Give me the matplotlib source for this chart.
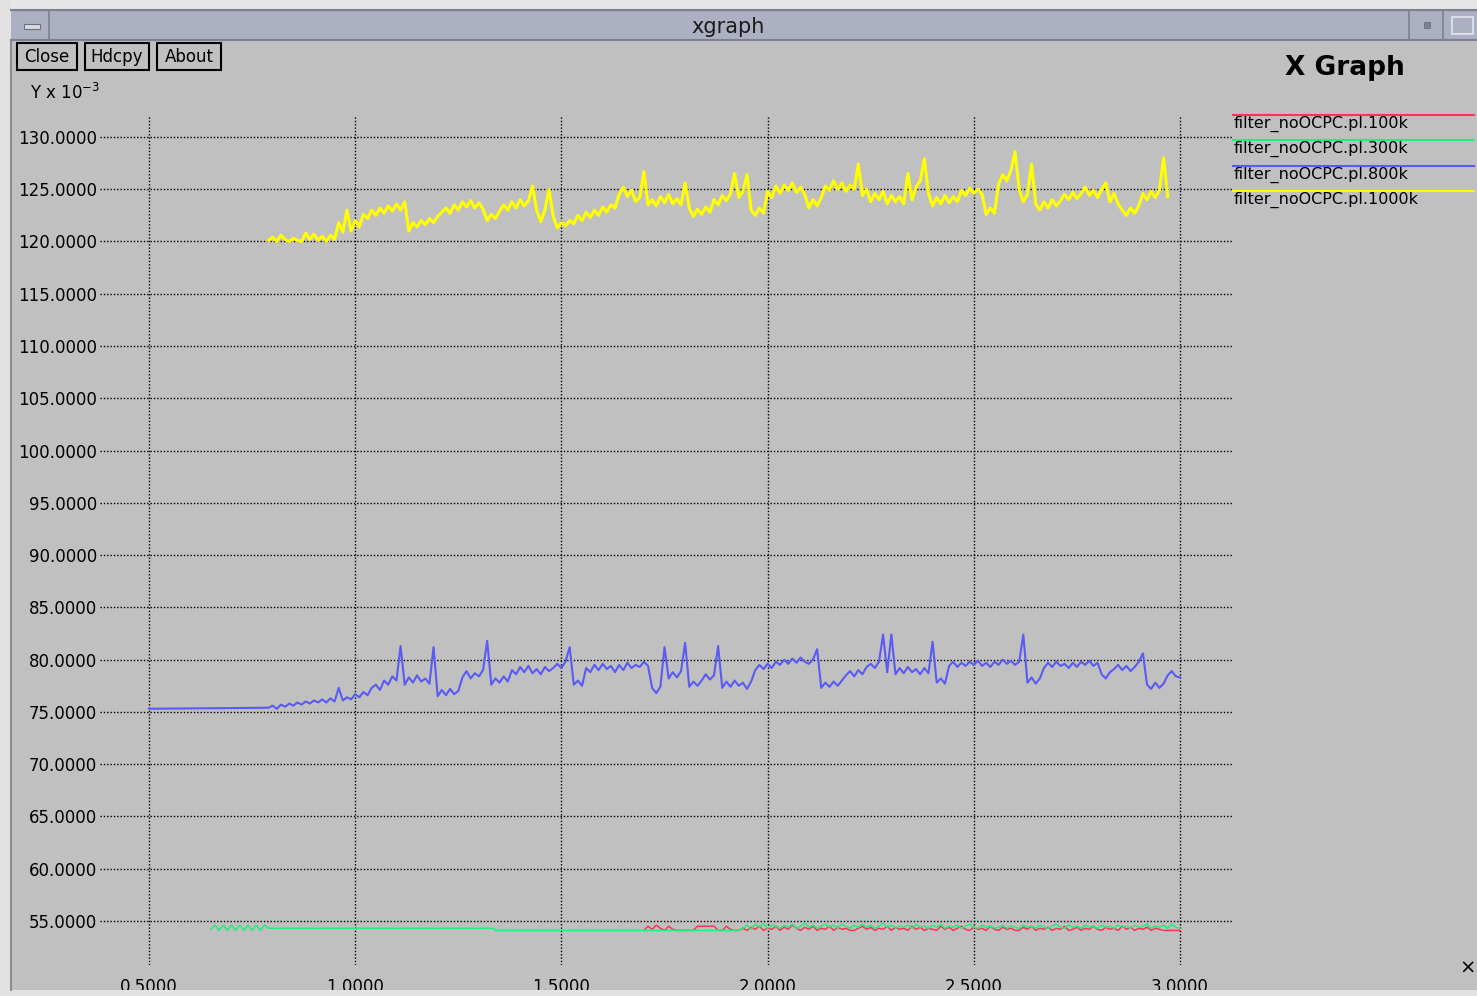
import numpy as np
import matplotlib
matplotlib.use('Agg')
import matplotlib.pyplot as plt
from matplotlib.patches import Rectangle
from matplotlib.lines import Line2D

W, H = 1477, 996

# ---- data, y in units of 1e-3 ----
labels = ['filter_noOCPC.pl.100k', 'filter_noOCPC.pl.300k',
          'filter_noOCPC.pl.800k', 'filter_noOCPC.pl.1000k']
colors = ['#ff3355', '#1ef07a', '#5a5af5', '#ffff00']

x_ticks = [0.5, 1.0, 1.5, 2.0, 2.5, 3.0]
y_ticks = [55, 60, 65, 70, 75, 80, 85, 90, 95, 100, 105, 110, 115, 120, 125, 130]

dt = 0.01

# 100k (red), sampled every dt from 1.70
red_x0 = 1.70
red_y = [54.1, 54.5, 54.2, 54.6, 54.3, 54.1, 54.5, 54.2, 54.1, 54.1,
         54.1, 54.1, 54.1, 54.5, 54.5, 54.5, 54.5, 54.5, 54.1, 54.1,
         54.5, 54.2, 54.1, 54.1, 54.3, 54.1, 54.4, 54.2, 54.5, 54.1,
         54.3, 54.2, 54.5, 54.1, 54.4, 54.2, 54.6, 54.3, 54.1, 54.4,
         54.2, 54.5, 54.1, 54.3, 54.2, 54.5, 54.1, 54.4, 54.2, 54.3,
         54.1, 54.1, 54.3, 54.5, 54.2, 54.4, 54.1, 54.3, 54.2, 54.5,
         54.1, 54.4, 54.2, 54.3, 54.1, 54.5, 54.2, 54.4, 54.1, 54.3,
         54.2, 54.1, 54.5, 54.2, 54.4, 54.1, 54.3, 54.5, 54.2, 54.1,
         54.4, 54.2, 54.3, 54.1, 54.5, 54.2, 54.1, 54.4, 54.2, 54.3,
         54.1, 54.1, 54.4, 54.2, 54.5, 54.1, 54.3, 54.2, 54.4, 54.1,
         54.3, 54.2, 54.5, 54.1, 54.2, 54.4, 54.1, 54.3, 54.2, 54.5,
         54.2, 54.1, 54.4, 54.2, 54.3, 54.1, 54.5, 54.2, 54.4, 54.1,
         54.3, 54.2, 54.4, 54.1, 54.3, 54.2, 54.1, 54.1, 54.1, 54.1,
         54.1]

# 300k (green): zigzag start, flat part, then noisy from 1.94
green_zig_x0 = 0.65
green_zig_y = [54.2, 54.6, 54.1, 54.6, 54.1, 54.6, 54.1, 54.6, 54.1, 54.6,
               54.1, 54.6, 54.1, 54.6, 54.3, 54.3]
green_flat_x = [1.335, 1.34, 1.93]
green_flat_y = [54.3, 54.1, 54.1]
green_x0 = 1.94
green_y = [54.3, 54.6, 54.2, 54.7, 54.4, 54.8, 54.3, 54.6, 54.5, 54.3,
           54.6, 54.4, 54.7, 54.3, 54.5, 54.8, 54.4, 54.6, 54.3, 54.5,
           54.7, 54.4, 54.6, 54.3, 54.7, 54.5, 54.3, 54.6, 54.4, 54.7,
           54.4, 54.6, 54.3, 54.5, 54.8, 54.4, 54.6, 54.3, 54.5, 54.4,
           54.6, 54.3, 54.7, 54.4, 54.5, 54.3, 54.6, 54.4, 54.7, 54.3,
           54.5, 54.4, 54.6, 54.3, 54.5, 54.7, 54.4, 54.3, 54.6, 54.4,
           54.5, 54.3, 54.4, 54.6, 54.3, 54.5, 54.4, 54.3, 54.6, 54.4,
           54.5, 54.3, 54.6, 54.4, 54.3, 54.5, 54.7, 54.4, 54.3, 54.6,
           54.4, 54.5, 54.3, 54.6, 54.4, 54.5, 54.3, 54.6, 54.4, 54.5,
           54.3, 54.6, 54.4, 54.5, 54.3, 54.6, 54.4, 54.5, 54.7, 54.3,
           54.5, 54.4, 54.6, 54.3, 54.7, 54.4, 54.3]

# 800k (blue): flat at 75.3 from 0.5, noisy from 0.79
blue_start = (0.5, 75.3)
blue_x0 = 0.79
blue_y = [75.4, 75.6, 75.3, 75.7, 75.5, 75.8, 75.6, 75.9, 75.7, 76.0,
          75.8, 76.1, 75.9, 76.2, 75.9, 76.3, 76.0, 77.3, 76.1, 76.4,
          76.2, 76.7, 76.4, 76.9, 76.6, 77.3, 77.6, 77.1, 78.0, 77.6,
          78.4, 78.0, 81.3, 77.6, 78.3, 77.8, 78.5, 77.9, 78.2, 77.7,
          81.2, 76.5, 77.1, 76.6, 77.2, 76.7, 77.0, 78.3, 78.9, 78.2,
          78.7, 78.4, 79.0, 81.8, 77.6, 78.2, 77.8, 78.4, 77.9, 79.0,
          78.6, 79.3, 78.8, 79.4, 78.7, 79.1, 78.6, 79.3, 78.9, 79.2,
          79.6, 79.2, 79.8, 81.2, 77.6, 78.0, 77.5, 79.2, 78.8, 79.5,
          79.0, 79.6, 79.1, 79.4, 78.8, 79.5, 79.0, 79.7, 79.2, 79.5,
          79.3, 79.8, 79.4, 77.3, 76.8, 77.4, 81.2, 78.2, 78.8, 78.3,
          78.9, 81.6, 77.4, 77.9, 77.5, 78.0, 78.6, 78.1, 78.5, 81.3,
          77.3, 77.9, 77.4, 78.0, 77.5, 77.8, 77.2, 77.9, 79.0, 79.5,
          79.1, 79.6, 79.2, 79.8, 79.5, 80.0, 79.6, 80.1, 79.7, 80.2,
          79.8, 79.6, 80.0, 81.0, 77.3, 77.8, 77.4, 77.9, 77.5, 78.0,
          78.5, 78.9, 78.4, 79.0, 78.6, 79.3, 79.6, 79.2, 79.8, 82.4,
          78.8, 82.4, 78.6, 79.2, 78.7, 79.3, 78.8, 79.1, 78.6, 79.2,
          78.7, 81.7, 77.8, 78.2, 77.7, 79.4, 79.8, 79.3, 79.7, 79.4,
          79.8, 79.5, 79.9, 79.4, 79.7, 79.3, 79.8, 79.5, 80.0, 79.6,
          79.9, 79.5, 79.8, 82.4, 77.8, 78.3, 77.7, 78.2, 79.2, 79.7,
          79.3, 79.8, 79.4, 79.6, 79.2, 79.7, 79.3, 79.8, 79.5, 79.9,
          79.4, 79.7, 78.6, 78.2, 78.8, 79.1, 79.5, 79.0, 79.4, 78.9,
          79.3, 79.8, 80.6, 77.6, 77.2, 77.8, 77.3, 77.7, 78.5, 78.9,
          78.4, 78.3]

# 1000k (yellow), from 0.79
yellow_x0 = 0.79
yellow_y = [120.1, 120.4, 120.0, 120.6, 120.2, 120.0, 120.3, 120.1, 120.0, 120.8,
            120.2, 120.7, 120.1, 120.5, 120.0, 120.6, 120.2, 121.8, 120.9, 123.0,
            121.0, 122.0, 121.4, 122.6, 122.2, 123.0, 122.5, 123.2, 122.7, 123.4,
            122.9, 123.6, 123.0, 123.8, 121.0, 121.8, 121.4, 122.0, 121.6, 122.2,
            121.8, 122.4, 122.8, 123.2, 122.7, 123.5, 123.0, 123.8, 123.3, 123.9,
            123.2, 123.7, 123.1, 122.0, 122.6, 122.2, 122.9, 123.5, 123.0, 123.8,
            123.2, 124.0, 123.4, 123.9, 125.3, 123.0, 121.9, 123.0, 125.0, 122.4,
            121.3, 121.8, 121.5, 122.0, 121.7, 122.5, 122.0, 122.8, 122.3, 123.0,
            122.5, 123.3, 122.8, 123.5, 123.2, 124.5, 125.2, 124.3, 124.9, 123.8,
            124.2, 126.7, 123.5, 124.0, 123.4, 124.3, 123.7, 124.5, 123.6, 124.1,
            123.5, 125.6, 123.2, 122.4, 123.1, 122.6, 123.3, 122.8, 124.0, 123.5,
            124.4, 123.9, 124.6, 126.5, 124.2, 124.8, 126.4, 123.0, 122.5, 123.2,
            122.7, 124.8, 124.2, 125.3, 124.6, 125.4, 124.9, 125.6, 124.7, 125.2,
            124.5, 123.2, 124.0, 123.4, 124.2, 125.3, 124.9, 125.8, 125.0, 125.6,
            124.8, 125.4, 125.0, 127.4, 124.4, 125.0, 123.8, 124.6, 124.0, 124.8,
            123.6, 124.4, 123.8, 124.3, 123.6, 126.5, 124.0, 125.2, 125.8, 127.9,
            124.6, 123.4, 124.2, 123.6, 124.4, 123.7, 124.3, 123.8, 124.9, 124.4,
            125.1, 124.6, 125.0, 124.5, 122.6, 123.2, 122.7, 125.5, 126.4, 125.8,
            126.8, 128.6, 125.0, 123.8, 124.5, 127.4, 123.6, 123.0, 123.8, 123.2,
            124.0, 123.4, 123.9, 124.5, 124.0, 124.7, 124.1, 124.6, 125.2, 124.4,
            124.9, 124.2, 125.0, 125.6, 123.8, 124.6, 123.6, 123.0, 122.5, 123.2,
            122.7, 123.4, 124.6, 124.0, 124.8, 124.2, 124.9, 128.0, 124.3]


def fx(px):
    return px / W


def fy(py):
    return 1 - py / H


def box(fig, x0, y0, x1, y1, **kw):
    # rectangle given in screenshot pixels (top-left origin)
    r = Rectangle((fx(x0), fy(y1)), (x1 - x0) / W, (y1 - y0) / H,
                  transform=fig.transFigure, **kw)
    fig.add_artist(r)
    return r


def hline(fig, x0, x1, y, **kw):
    fig.add_artist(Line2D([fx(x0), fx(x1)], [fy(y), fy(y)],
                          transform=fig.transFigure, **kw))


def vline(fig, x, y0, y1, **kw):
    fig.add_artist(Line2D([fx(x), fx(x)], [fy(y0), fy(y1)],
                          transform=fig.transFigure, **kw))


def main():
    plt.rcParams['font.family'] = ['DejaVu Sans']
    fig = plt.figure(figsize=(W / 100, H / 100), dpi=100, facecolor='#c0c0c0')

    # ---- window chrome ----
    box(fig, 0, 0, W, 10, facecolor='#e6e6e6', edgecolor='none')
    box(fig, 0, 0, 11, H, facecolor='#e2e2e2', edgecolor='none')
    box(fig, 0, 990, W, H, facecolor='#e2e2e2', edgecolor='none')
    vline(fig, 11, 40, 990, color='#8c8c98', lw=1.5)
    box(fig, 11, 10, W, 40, facecolor='#acb0c2', edgecolor='none')
    hline(fig, 11, W, 10.5, color='#7c8090', lw=1.5)
    hline(fig, 11, W, 40, color='#7c8090', lw=1.5)
    vline(fig, 49, 11, 40, color='#7c8090', lw=1.2)
    vline(fig, 1409, 11, 40, color='#7c8090', lw=1.2)
    vline(fig, 1443, 11, 40, color='#7c8090', lw=1.2)
    box(fig, 24, 24, 40, 29, facecolor='#d8dae2', edgecolor='#6c7080', lw=0.8)
    box(fig, 1424, 22, 1430, 28, facecolor='#7c8090', edgecolor='#6c7080', lw=0.6)
    box(fig, 1452, 17, 1473, 34, facecolor='none', edgecolor='#e4e6ee', lw=1.2)
    fig.text(fx(728), fy(27), 'xgraph', ha='center', va='center',
             fontsize=15, color='#1c1c1c')

    # buttons
    for bx0, bx1, name in [(17, 77, 'Close'), (85, 149, 'Hdcpy'), (157, 221, 'About')]:
        box(fig, bx0, 43, bx1, 70, facecolor='none', edgecolor='black', lw=1.5)
        fig.text(fx((bx0 + bx1) / 2), fy(56.5), name, ha='center', va='center',
                 fontsize=12, color='black')

    fig.text(fx(30), fy(93), r'Y x 10$^{-3}$', ha='left', va='center',
             fontsize=12, color='black')
    fig.text(fx(1345), fy(68), 'X Graph', ha='center', va='center',
             fontsize=19, fontweight='bold', color='black')
    fig.text(fx(1468), fy(968), u'\u00d7', ha='center', va='center',
             fontsize=14, color='black')

    # ---- plot area ----
    ax = fig.add_axes([fx(100), fy(965), (1232 - 100) / W, (965 - 115) / H])
    ax.set_facecolor('none')
    for s in ax.spines.values():
        s.set_visible(False)
    ax.set_xlim(0.3812, 3.126)
    ax.set_ylim(50.79, 132.1)
    ax.set_xticks(x_ticks)
    ax.set_yticks(y_ticks)
    ax.set_xticklabels(['%.4f' % v for v in x_ticks])
    ax.set_yticklabels(['%.4f' % v for v in y_ticks])
    ax.tick_params(length=0, labelsize=12, colors='black')
    ax.tick_params(axis='x', pad=9)
    ax.tick_params(axis='y', pad=2)
    ax.grid(True, color='black', linestyle=(0, (1, 1.4)), linewidth=1.0)
    ax.set_axisbelow(True)

    red_x = red_x0 + dt * np.arange(len(red_y))
    gz_x = green_zig_x0 + dt * np.arange(len(green_zig_y))
    gn_x = green_x0 + dt * np.arange(len(green_y))
    green_x = np.concatenate([gz_x, green_flat_x, gn_x])
    green_all = np.concatenate([green_zig_y, green_flat_y, green_y])
    blue_x = np.concatenate([[blue_start[0]], blue_x0 + dt * np.arange(len(blue_y))])
    blue_all = np.concatenate([[blue_start[1]], blue_y])
    yellow_x = yellow_x0 + dt * np.arange(len(yellow_y))

    ax.plot(red_x, red_y, color=colors[0], lw=1.1)
    ax.plot(green_x, green_all, color=colors[1], lw=1.1)
    ax.plot(blue_x, blue_all, color=colors[2], lw=1.5)
    ax.plot(yellow_x, yellow_y, color=colors[3], lw=2.2)

    # legend, xgraph style: line above each label
    for i, (lab, c) in enumerate(zip(labels, colors)):
        ly = 115 + i * 25.3
        hline(fig, 1233, 1474, ly, color=c, lw=1.5)
        fig.text(fx(1234), fy(ly + 9), lab, ha='left', va='center',
                 fontsize=11.5, color='black')

    fig.savefig('out.png', dpi=100, facecolor=fig.get_facecolor())
    return 0


if __name__ == '__main__':
    main()
